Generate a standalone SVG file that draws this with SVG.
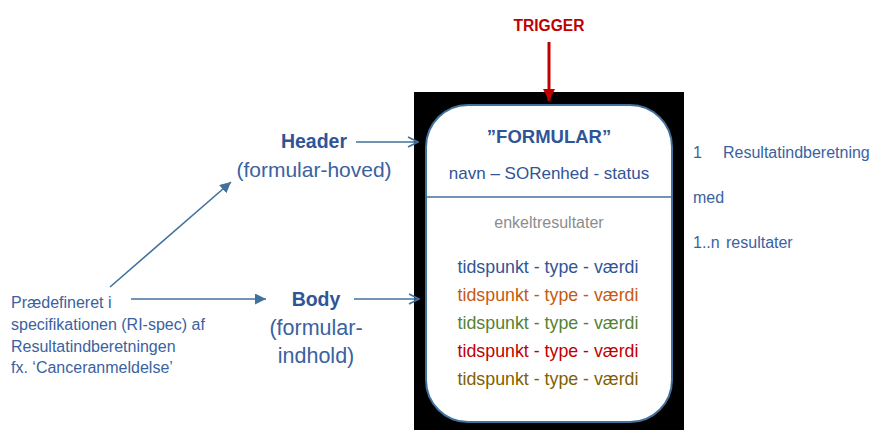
<svg xmlns="http://www.w3.org/2000/svg" width="876" height="430" viewBox="0 0 876 430">
<defs>
<style>
text{font-family:"Liberation Sans",Arial,sans-serif}
.b{fill:#2F5597}
.l{fill:#3A62A0}
.bold{font-weight:bold}
.c{text-anchor:middle}
.ln{stroke:#41719C;stroke-width:1.6;fill:none}
</style>
<marker id="open" viewBox="0 0 12 12" refX="11" refY="6" markerWidth="12" markerHeight="12" markerUnits="userSpaceOnUse" orient="auto">
<path d="M1,1 L11,6 L1,11" fill="none" stroke="#41719C" stroke-width="1.6"/>
</marker>
<marker id="fill" viewBox="0 0 10 10" refX="10" refY="5" markerWidth="11" markerHeight="11" markerUnits="userSpaceOnUse" orient="auto">
<path d="M0,0 L10,5 L0,10 Z" fill="#41719C"/>
</marker>
<marker id="red" viewBox="0 0 10 10" refX="10" refY="5" markerWidth="12" markerHeight="12" markerUnits="userSpaceOnUse" orient="auto">
<path d="M0,0 L10,5 L0,10 Z" fill="#C00000"/>
</marker>
</defs>
<rect width="876" height="430" fill="#ffffff"/>
<g id="formular">
<rect x="414" y="92" width="270" height="338" fill="#000000"/>
<rect x="426" y="105" width="246" height="317" rx="42" ry="42" fill="#ffffff" stroke="#41719C" stroke-width="2"/>
<line x1="426" y1="197" x2="672" y2="197" stroke="#41719C" stroke-width="1.6"/>
<text x="549" y="143" class="c b bold" font-size="18.5">”FORMULAR”</text>
<text x="549" y="179" class="c b" font-size="17">navn – SORenhed - status</text>
<text x="549" y="228" class="c" font-size="16" fill="#8C8C8C">enkeltresultater</text>
<text x="548" y="273" class="c" font-size="17.8" fill="#2F5597">tidspunkt - type - værdi</text>
<text x="548" y="301" class="c" font-size="17.8" fill="#C55A11">tidspunkt - type - værdi</text>
<text x="548" y="329" class="c" font-size="17.8" fill="#548235">tidspunkt - type - værdi</text>
<text x="548" y="357" class="c" font-size="17.8" fill="#C00000">tidspunkt - type - værdi</text>
<text x="548" y="385" class="c" font-size="17.8" fill="#7F6000">tidspunkt - type - værdi</text>
</g>
<g id="trigger">
<text x="549" y="31" class="c bold" font-size="15.6" fill="#C00000">TRIGGER</text>
</g>
<g id="header">
<text x="314" y="148" class="c b bold" font-size="19.5">Header</text>
<text x="314" y="177" class="c l" font-size="21">(formular-hoved)</text>
</g>
<g id="body">
<text x="316" y="306" class="c b bold" font-size="19.5">Body</text>
<text x="316" y="335" class="c l" font-size="21.5">(formular-</text>
<text x="316" y="363" class="c l" font-size="21.5">indhold)</text>
</g>
<g id="predefined">
<text x="11" y="308" class="l" font-size="16">Prædefineret i</text>
<text x="11" y="330" class="l" font-size="16">specifikationen (RI-spec) af</text>
<text x="11" y="352" class="l" font-size="16">Resultatindberetningen</text>
<text x="11" y="373" class="l" font-size="16">fx. ‘Canceranmeldelse’</text>
</g>
<g id="cardinality">
<text y="158" class="l" font-size="16"><tspan x="693">1</tspan><tspan x="723">Resultatindberetning</tspan></text>
<text x="693" y="203" class="l" font-size="16">med</text>
<text y="248" class="l" font-size="16"><tspan x="693">1..n</tspan><tspan x="726">resultater</tspan></text>
</g>
<g id="connectors">
<line x1="549" y1="42" x2="549" y2="101" stroke="#C00000" stroke-width="3" marker-end="url(#red)"/>
<line x1="356" y1="142" x2="418" y2="142" class="ln" marker-end="url(#open)"/>
<line x1="354" y1="299" x2="419" y2="299" class="ln" marker-end="url(#open)"/>
<line x1="110" y1="287" x2="231" y2="182" class="ln" marker-end="url(#fill)"/>
<line x1="131" y1="299" x2="266" y2="299" class="ln" marker-end="url(#fill)"/>
</g>
</svg>
